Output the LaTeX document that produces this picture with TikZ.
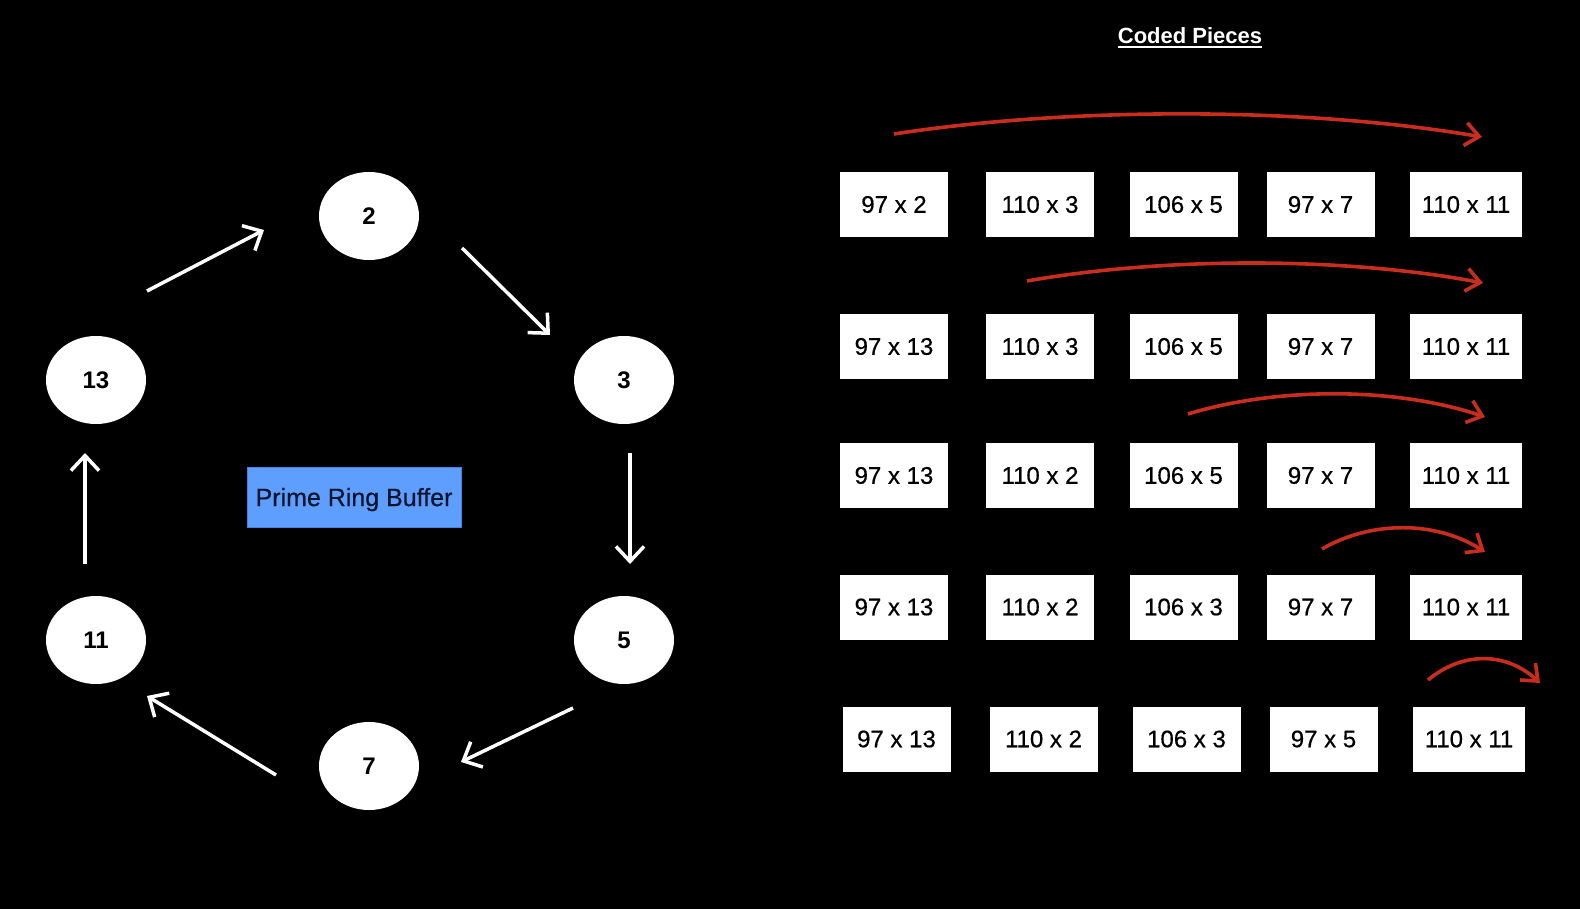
\documentclass[tikz,border=0pt]{standalone}
\usepackage{fontspec}
\setmainfont{Liberation Sans}
\newfontfamily\piecefont{Liberation Sans}[FakeBold=0.5]
\usetikzlibrary{arrows.meta,shapes.geometric}
\definecolor{ringblue}{RGB}{94,158,255}
\definecolor{ringblueedge}{RGB}{70,130,230}
\definecolor{arrowred}{RGB}{200,45,30}
\definecolor{navytext}{RGB}{10,20,45}
\tikzset{
  ringnode/.style={ellipse, fill=white, minimum width=100pt, minimum height=88pt, inner sep=0pt,
    font=\fontsize{24}{28}\selectfont\bfseries, text=black},
  piece/.style={rectangle, fill=white, minimum width=108pt, minimum height=65pt, inner sep=0pt,
    font=\piecefont\fontsize{24}{28}\selectfont, text=black},
  piecewide/.style={piece, minimum width=112pt},
  ringarrow/.style={draw=white, line width=3.5pt, -{Straight Barb[length=15pt,width=28pt]}},
  shiftarrow/.style={draw=arrowred, line width=3.6pt, -{Straight Barb[length=14pt,width=23pt]}},
  titletext/.style={inner sep=0pt, text=white, font=\fontsize{22}{26}\selectfont\bfseries},
  bufferbox/.style={rectangle, fill=ringblue, draw=ringblueedge, line width=0.8pt,
    minimum width=214pt, minimum height=60pt, inner sep=0pt, text depth=0pt, text=navytext,
    font=\piecefont\fontsize{25}{29}\selectfont},
}
\begin{document}
\begin{tikzpicture}[x=1pt,y=-1pt]
\useasboundingbox (0,0) rectangle (1580,909);
\fill[black] (0,0) rectangle (1580,909);

% ---- ring ----
\node[ringnode] (n2)  at (369,216) {2};
\node[ringnode] (n3)  at (624,380) {3};
\node[ringnode] (n5)  at (624,640) {5};
\node[ringnode] (n7)  at (369,766) {7};
\node[ringnode] (n11) at (96,640)  {11};
\node[ringnode] (n13) at (96,380)  {13};
\node[bufferbox] (buf) at (354,497) {Prime Ring Buffer};

\coordinate (a1s) at (147,291); \coordinate (a1e) at (264,230);
\coordinate (a2s) at (462,248); \coordinate (a2e) at (550,335);
\coordinate (a3s) at (630,453); \coordinate (a3e) at (630,564);
\coordinate (a4s) at (573,708); \coordinate (a4e) at (461,762);
\coordinate (a5s) at (276,775); \coordinate (a5e) at (147,696);
\coordinate (a6s) at (85,564);  \coordinate (a6e) at (85,453);
\draw[ringarrow] (a1s) -- (a1e);
\draw[ringarrow] (a2s) -- (a2e);
\draw[ringarrow] (a3s) -- (a3e);
\draw[ringarrow] (a4s) -- (a4e);
\draw[ringarrow] (a5s) -- (a5e);
\draw[ringarrow] (a6s) -- (a6e);

% ---- title ----
\node[titletext, anchor=base] (title) at (1190,44) {Coded Pieces};
\draw[white, line width=2pt] ([yshift=-3.5pt]title.base west) -- ([yshift=-3.5pt]title.base east);

% ---- coded pieces ----
\node[piece] (p11) at (894,204.5)    {97 x 2};
\node[piece] (p12) at (1040,204.5)   {110 x 3};
\node[piece] (p13) at (1183.5,204.5) {106 x 5};
\node[piece] (p14) at (1320.5,204.5) {97 x 7};
\node[piecewide] (p15) at (1466,204.5) {110 x 11};

\node[piece] (p21) at (894,346.5)    {97 x 13};
\node[piece] (p22) at (1040,346.5)   {110 x 3};
\node[piece] (p23) at (1183.5,346.5) {106 x 5};
\node[piece] (p24) at (1320.5,346.5) {97 x 7};
\node[piecewide] (p25) at (1466,346.5) {110 x 11};

\node[piece] (p31) at (894,475.5)    {97 x 13};
\node[piece] (p32) at (1040,475.5)   {110 x 2};
\node[piece] (p33) at (1183.5,475.5) {106 x 5};
\node[piece] (p34) at (1320.5,475.5) {97 x 7};
\node[piecewide] (p35) at (1466,475.5) {110 x 11};

\node[piece] (p41) at (894,607)    {97 x 13};
\node[piece] (p42) at (1040,607)   {110 x 2};
\node[piece] (p43) at (1183.5,607) {106 x 3};
\node[piece] (p44) at (1320.5,607) {97 x 7};
\node[piecewide] (p45) at (1466,607) {110 x 11};

\node[piece] (p51) at (896.5,739)  {97 x 13};
\node[piece] (p52) at (1043.5,739) {110 x 2};
\node[piece] (p53) at (1186.5,739) {106 x 3};
\node[piece] (p54) at (1323.5,739) {97 x 5};
\node[piecewide] (p55) at (1469,739) {110 x 11};

% ---- red shift arrows ----
\coordinate (r1s) at (894,134);  \coordinate (r1e) at (1482,137);
\coordinate (r2s) at (1027,281); \coordinate (r2e) at (1483,283);
\coordinate (r3s) at (1188,414); \coordinate (r3e) at (1485,417);
\coordinate (r4s) at (1322,549); \coordinate (r4e) at (1485,552);
\coordinate (r5s) at (1428,680); \coordinate (r5e) at (1540,683);
\draw[shiftarrow] (r1s) .. controls (1070,106.8) and (1306,106.8) .. (r1e);
\draw[shiftarrow] (r2s) .. controls (1164,256.8) and (1346,256.8) .. (r2e);
\draw[shiftarrow] (r3s) .. controls (1277,386.8) and (1396,386.8) .. (r3e);
\draw[shiftarrow] (r4s) .. controls (1371,520.5) and (1436,520.5) .. (r4e);
\draw[shiftarrow] (r5s) .. controls (1462,651.5) and (1506,651.5) .. (r5e);
\end{tikzpicture}
\end{document}
